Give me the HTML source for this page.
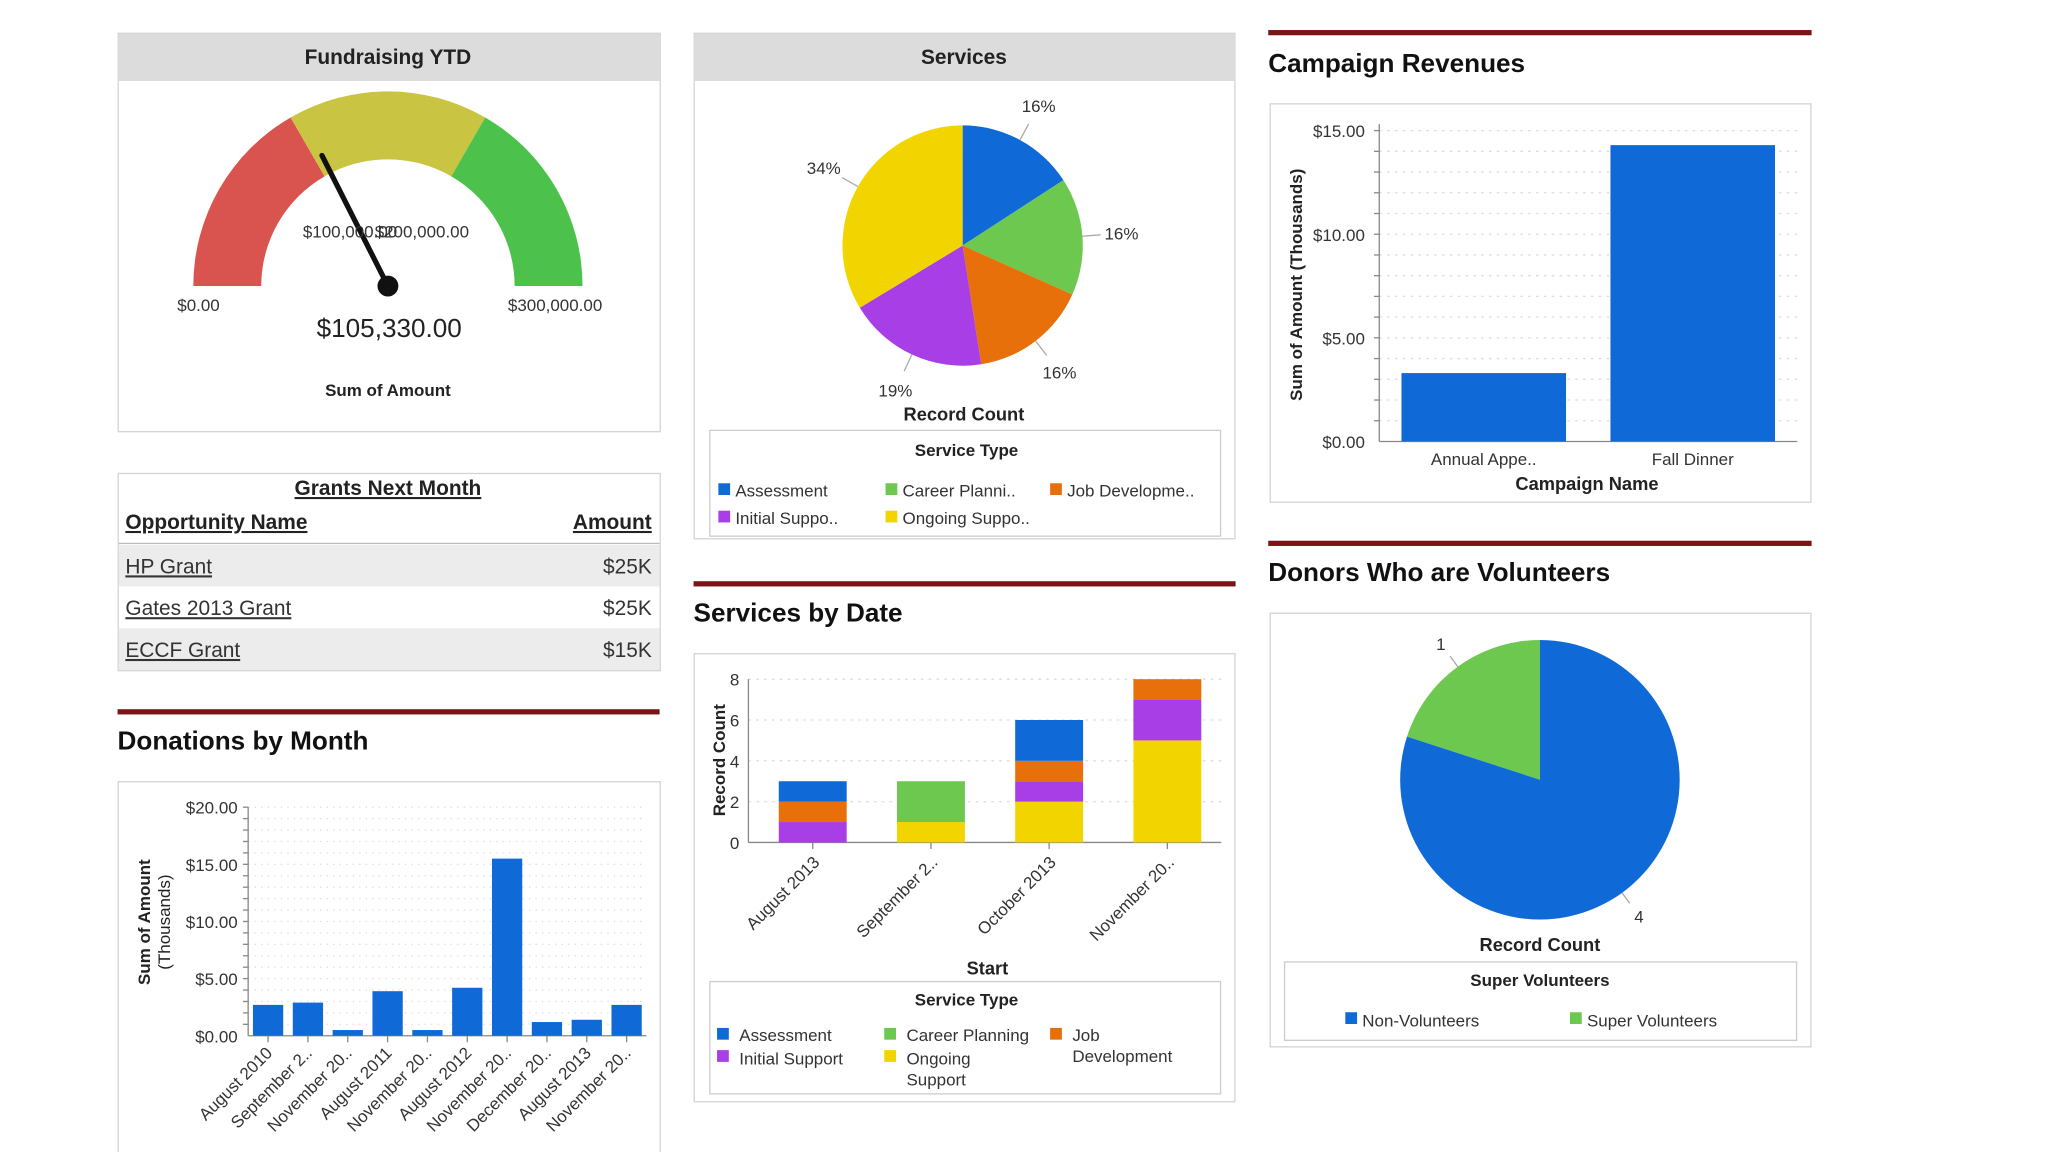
<!DOCTYPE html>
<html><head><meta charset="utf-8"><style>
html,body{margin:0;padding:0;background:#fff;}
svg{display:block;font-family:"Liberation Sans",Arial,sans-serif;}
</style></head><body>
<svg id="root" width="2048" height="1152" viewBox="0 0 1568 882" xmlns="http://www.w3.org/2000/svg">
<rect x="0" y="0" width="1568" height="882" fill="#fff"/>
<!-- Fundraising YTD panel -->
<g>
<rect x="90.5" y="25.5" width="415" height="305" fill="#fff" stroke="#d4d4d4"/>
<rect x="91" y="26" width="414" height="36" fill="#dcdcdc"/>
<text x="297" y="49" font-size="16" font-weight="bold" text-anchor="middle" fill="#222">Fundraising YTD</text>
<g id="gauge"></g>
<text x="152" y="238" font-size="13" text-anchor="middle" fill="#333">$0.00</text>
<text x="425" y="238" font-size="13" text-anchor="middle" fill="#333">$300,000.00</text>
<text x="268" y="182" font-size="13" text-anchor="middle" fill="#333">$100,000.00</text>
<text x="323" y="182" font-size="13" text-anchor="middle" fill="#333">$200,000.00</text>
<text x="298" y="258" font-size="20" text-anchor="middle" fill="#222">$105,330.00</text>
<text x="297" y="303" font-size="13" font-weight="bold" text-anchor="middle" fill="#222">Sum of Amount</text>
</g>
<!-- Grants table -->
<g>
<rect x="90.5" y="362.5" width="415" height="151" fill="#fff" stroke="#d4d4d4"/>
<text x="297" y="379" font-size="16" font-weight="bold" text-anchor="middle" fill="#222" text-decoration="underline">Grants Next Month</text>
<text x="96" y="405" font-size="16" font-weight="bold" fill="#222" text-decoration="underline">Opportunity Name</text>
<text x="499" y="405" font-size="16" font-weight="bold" fill="#222" text-anchor="end" text-decoration="underline">Amount</text>
<line x1="91" y1="416" x2="505" y2="416" stroke="#bbb"/>
<rect x="91" y="417" width="414" height="32" fill="#ececec"/>
<rect x="91" y="481" width="414" height="32" fill="#ececec"/>
<text x="96" y="439" font-size="16" fill="#333" text-decoration="underline">HP Grant</text>
<text x="499" y="439" font-size="16" fill="#333" text-anchor="end">$25K</text>
<text x="96" y="471" font-size="16" fill="#333" text-decoration="underline">Gates 2013 Grant</text>
<text x="499" y="471" font-size="16" fill="#333" text-anchor="end">$25K</text>
<text x="96" y="503" font-size="16" fill="#333" text-decoration="underline">ECCF Grant</text>
<text x="499" y="503" font-size="16" fill="#333" text-anchor="end">$15K</text>
</g>
<!-- Donations by month -->
<g>
<rect x="90" y="543" width="415" height="4" fill="#7b1414"/>
<text x="90" y="574" font-size="20" font-weight="bold" fill="#111">Donations by Month</text>
<rect x="90.5" y="598.5" width="415" height="300" fill="#fff" stroke="#d4d4d4"/>
<g id="donChart"></g>
<text transform="translate(115,706) rotate(-90)" font-size="13" font-weight="bold" text-anchor="middle" fill="#222">Sum of Amount</text>
<text transform="translate(130,706) rotate(-90)" font-size="13" text-anchor="middle" fill="#222">(Thousands)</text>
</g>
<!-- Services panel -->
<g>
<rect x="531.5" y="25.5" width="414" height="387" fill="#fff" stroke="#d4d4d4"/>
<rect x="532" y="26" width="413" height="36" fill="#dcdcdc"/>
<text x="738" y="49" font-size="16" font-weight="bold" text-anchor="middle" fill="#222">Services</text>
<g id="svcPie"></g>
<text x="738" y="322" font-size="14" font-weight="bold" text-anchor="middle" fill="#222">Record Count</text>
<rect x="543.5" y="329.5" width="391" height="81" fill="#fff" stroke="#ccc"/>
<text x="740" y="349" font-size="13" font-weight="bold" text-anchor="middle" fill="#222">Service Type</text>
<g id="svcLegend"></g>
</g>
<!-- Services by date -->
<g>
<rect x="531" y="445" width="415" height="4" fill="#7b1414"/>
<text x="531" y="476" font-size="20" font-weight="bold" fill="#111">Services by Date</text>
<rect x="531.5" y="500.5" width="414" height="343" fill="#fff" stroke="#d4d4d4"/>
<g id="stackChart"></g>
<text transform="translate(555,582) rotate(-90)" font-size="13" font-weight="bold" text-anchor="middle" fill="#222">Record Count</text>
<text x="756" y="746" font-size="14" font-weight="bold" text-anchor="middle" fill="#222">Start</text>
<rect x="543.5" y="751.5" width="391" height="86" fill="#fff" stroke="#ccc"/>
<text x="740" y="770" font-size="13" font-weight="bold" text-anchor="middle" fill="#222">Service Type</text>
<g font-size="13" fill="#333">
<rect x="549" y="787" width="9" height="9" fill="#0f6ad8"/><text x="566" y="797">Assessment</text>
<rect x="549" y="804" width="9" height="9" fill="#a83ee6"/><text x="566" y="815">Initial Support</text>
<rect x="677" y="787" width="9" height="9" fill="#6cc84e"/><text x="694" y="797">Career Planning</text>
<rect x="677" y="804" width="9" height="9" fill="#f2d500"/><text x="694" y="815">Ongoing</text><text x="694" y="831">Support</text>
<rect x="804" y="787" width="9" height="9" fill="#e8700a"/><text x="821" y="797">Job</text><text x="821" y="813">Development</text>
</g>
</g>
<!-- Campaign revenues -->
<g>
<rect x="971" y="23" width="416" height="4" fill="#7b1414"/>
<text x="971" y="55" font-size="20" font-weight="bold" fill="#111">Campaign Revenues</text>
<rect x="972.5" y="79.5" width="414" height="305" fill="#fff" stroke="#d4d4d4"/>
<g id="campChart"></g>
<text transform="translate(997,218) rotate(-90)" font-size="13" font-weight="bold" text-anchor="middle" fill="#222">Sum of Amount (Thousands)</text>
<text x="1215" y="375" font-size="14" font-weight="bold" text-anchor="middle" fill="#222">Campaign Name</text>
</g>
<!-- Donors who are volunteers -->
<g>
<rect x="971" y="414" width="416" height="4" fill="#7b1414"/>
<text x="971" y="445" font-size="20" font-weight="bold" fill="#111">Donors Who are Volunteers</text>
<rect x="972.5" y="469.5" width="414" height="332" fill="#fff" stroke="#d4d4d4"/>
<g id="volPie"></g>
<text x="1179" y="728" font-size="14" font-weight="bold" text-anchor="middle" fill="#222">Record Count</text>
<rect x="983.5" y="736.5" width="392" height="60" fill="#fff" stroke="#ccc"/>
<text x="1179" y="755" font-size="13" font-weight="bold" text-anchor="middle" fill="#222">Super Volunteers</text>
<rect x="1030" y="775" width="9" height="9" fill="#0f6ad8"/><text x="1043" y="786" font-size="13" fill="#333">Non-Volunteers</text>
<rect x="1202" y="775" width="9" height="9" fill="#6cc84e"/><text x="1215" y="786" font-size="13" fill="#333">Super Volunteers</text>
</g>
</svg>
<script>
// ---------- data ----------
const gaugeMax = 300000;
const gaugeBands = [100000, 200000, 300000];
const gaugeValue = 105330;

const donMonths = ["August 2010","September 2..","November 20..","August 2011","November 20..","August 2012","November 20..","December 20..","August 2013","November 20.."];
const donValues = [2.7, 2.9, 0.5, 3.9, 0.5, 4.2, 15.5, 1.2, 1.4, 2.7];
const donTicks = ["$0.00","$5.00","$10.00","$15.00","$20.00"];
const donTickVals = [0, 5, 10, 15, 20];

const svcNames = ["Assessment","Career Planni..","Job Developme..","Initial Suppo..","Ongoing Suppo.."];
const svcPct = [16, 16, 16, 19, 34];
const svcPctLabels = ["16%","16%","16%","19%","34%"];

const stackCats = ["August 2013","September 2..","October 2013","November 20.."];
const stackOngoing = [0, 1, 2, 5];
const stackInitial = [1, 0, 1, 2];
const stackCareer = [0, 2, 0, 0];
const stackJob = [1, 0, 1, 1];
const stackAssessment = [1, 0, 2, 0];
const stackTicks = [0, 2, 4, 6, 8];

const campNames = ["Annual Appe..","Fall Dinner"];
const campValues = [3.3, 14.3];
const campTicks = ["$0.00","$5.00","$10.00","$15.00"];
const campTickVals = [0, 5, 10, 15];

const volNames = ["Super Volunteers","Non-Volunteers"];
const volCounts = [1, 4];

// ---------- helpers ----------
const NS = "http://www.w3.org/2000/svg";
function mk(tag, parent, attrs){ const e=document.createElementNS(NS,tag); for(const k in attrs) e.setAttribute(k,attrs[k]); parent.appendChild(e); return e; }
const C = {blue:"#0f6ad8", green:"#6cc84e", orange:"#e8700a", purple:"#a83ee6", yellow:"#f2d500"};

// ---------- gauge ----------
(function(){
  const g=document.getElementById('gauge');
  const cx=297, cy=219, ro=149, ri=97;
  const ang=v=>Math.PI - v/gaugeMax*Math.PI;
  const pt=(r,v)=>[cx+r*Math.cos(ang(v)), cy-r*Math.sin(ang(v))];
  const cols=["#d9534f","#c9c441","#4cc24c"];
  let prev=0;
  gaugeBands.forEach((b,i)=>{
    const a=pt(ro,prev), bb=pt(ro,b), c=pt(ri,b), d=pt(ri,prev);
    const p=mk('path',g,{d:`M${a} A${ro},${ro} 0 0 1 ${bb} L${c} A${ri},${ri} 0 0 0 ${d} Z`,fill:cols[i]});
    
    
    prev=b;
  });
  const tip=pt(112,gaugeValue);
  const n=mk('line',g,{x1:cx,y1:cy,x2:tip[0],y2:tip[1],stroke:"#111","stroke-width":4,"stroke-linecap":"round"});
  
  
  const h=mk('circle',g,{cx:cx,cy:cy,r:8,fill:"#111"});
  
  
})();

// ---------- donations bar chart ----------
(function(){
  const g=document.getElementById('donChart');
  const x0=190, x1=495, y0=793, y1=618;
  const ys=v=>y0-(v/20)*(y0-y1);
  for(let v=1; v<=20; v++){ mk('line',g,{x1:x0,y1:ys(v),x2:x1,y2:ys(v),stroke:"#ddd","stroke-dasharray":"1,4"}); mk('line',g,{x1:x0-4,y1:ys(v),x2:x0,y2:ys(v),stroke:"#888"}); }
  donTickVals.forEach((v,i)=>{ const t=mk('text',g,{x:x0-8,y:ys(v)+5,"font-size":13,"text-anchor":"end",fill:"#333"}); t.textContent=donTicks[i];   });
  mk('line',g,{x1:x0,y1:y1,x2:x0,y2:y0,stroke:"#888"});
  mk('line',g,{x1:x0,y1:y0,x2:x1,y2:y0,stroke:"#888"});
  const bw=(x1-x0)/donValues.length;
  donValues.forEach((v,i)=>{
    const cx=x0+bw*(i+0.5);
    const r=mk('rect',g,{x:cx-bw*0.38,y:ys(v),width:bw*0.76,height:y0-ys(v),fill:C.blue});
    
    
    mk('line',g,{x1:cx,y1:y0,x2:cx,y2:y0+5,stroke:"#888"});
    const t=mk('text',g,{transform:`translate(${cx+4},${y0+14}) rotate(-45)`,"font-size":13,"text-anchor":"end",fill:"#333"});
    t.textContent=donMonths[i];
    
    
  });
})();

// ---------- services pie ----------
(function(){
  const g=document.getElementById('svcPie');
  const cx=737, cy=188, r=92;
  const cols=[C.blue,C.green,C.orange,C.purple,C.yellow];
  const tot=svcPct.reduce((a,b)=>a+b,0);
  let a0=-Math.PI/2;
  svcPct.forEach((p,i)=>{
    const a1=a0+p/tot*Math.PI*2;
    const large=(a1-a0)>Math.PI?1:0;
    const s=mk('path',g,{d:`M${cx},${cy} L${cx+r*Math.cos(a0)},${cy+r*Math.sin(a0)} A${r},${r} 0 ${large} 1 ${cx+r*Math.cos(a1)},${cy+r*Math.sin(a1)} Z`,fill:cols[i]});
    
    
    const am=(a0+a1)/2;
    mk('line',g,{x1:cx+r*Math.cos(am),y1:cy+r*Math.sin(am),x2:cx+(r+14)*Math.cos(am),y2:cy+(r+14)*Math.sin(am),stroke:"#aaa"});
    const t=mk('text',g,{x:cx+(r+30)*Math.cos(am),y:cy+(r+30)*Math.sin(am)+5,"font-size":13,"text-anchor":"middle",fill:"#333"});
    t.textContent=svcPctLabels[i];
    
    
    a0=a1;
  });
  const lg=document.getElementById('svcLegend');
  const pos=[[550,370],[678,370],[804,370],[550,391],[678,391]];
  svcNames.forEach((n,i)=>{
    mk('rect',lg,{x:pos[i][0],y:pos[i][1],width:9,height:9,fill:cols[i]});
    const t=mk('text',lg,{x:pos[i][0]+13,y:pos[i][1]+10,"font-size":13,fill:"#333"});
    t.textContent=n;
    
    
  });
})();

// ---------- stacked chart ----------
(function(){
  const g=document.getElementById('stackChart');
  const x0=573, x1=935, y0=645, y1=520;
  const ys=v=>y0-(v/8)*(y0-y1);
  stackTicks.forEach(v=>{
    if(v>0) mk('line',g,{x1:x0,y1:ys(v),x2:x1,y2:ys(v),stroke:"#ddd","stroke-dasharray":"2,4"});
    const t=mk('text',g,{x:x0-7,y:ys(v)+5,"font-size":13,"text-anchor":"end",fill:"#333"});
    t.textContent=v;
    
    
  });
  mk('line',g,{x1:x0,y1:y1,x2:x0,y2:y0,stroke:"#888"});
  mk('line',g,{x1:x0,y1:y0,x2:x1,y2:y0,stroke:"#888"});
  const series=[[stackOngoing,C.yellow],[stackInitial,C.purple],[stackCareer,C.green],[stackJob,C.orange],[stackAssessment,C.blue]];
  const bw=(x1-x0)/stackCats.length;
  stackCats.forEach((c,i)=>{
    const cx=x0+bw*(i+0.5)+4;
    let acc=0;
    series.forEach(([arr,col])=>{
      const v=arr[i]; if(!v) return;
      const r=mk('rect',g,{x:cx-26,y:ys(acc+v),width:52,height:ys(acc)-ys(acc+v),fill:col});
      
      
      acc+=v;
    });
    mk('line',g,{x1:cx,y1:y0,x2:cx,y2:y0+5,stroke:"#888"});
    const t=mk('text',g,{transform:`translate(${cx+6},${y0+16}) rotate(-45)`,"font-size":13,"text-anchor":"end",fill:"#333"});
    t.textContent=c;
    
    
  });
})();

// ---------- campaign bar chart ----------
(function(){
  const g=document.getElementById('campChart');
  const x0=1056, x1=1376, y0=338, y1=100;
  const ys=v=>y0-(v/15)*(y0-y1);
  for(let v=1; v<=15; v++){ mk('line',g,{x1:x0,y1:ys(v),x2:x1,y2:ys(v),stroke:"#ddd","stroke-dasharray":"2,4"}); mk('line',g,{x1:x0-4,y1:ys(v),x2:x0,y2:ys(v),stroke:"#888"}); }
  campTickVals.forEach((v,i)=>{ const t=mk('text',g,{x:x0-11,y:ys(v)+5,"font-size":13,"text-anchor":"end",fill:"#333"}); t.textContent=campTicks[i];   });
  mk('line',g,{x1:x0,y1:y1-5,x2:x0,y2:y0,stroke:"#888"});
  mk('line',g,{x1:x0,y1:y0,x2:x1,y2:y0,stroke:"#888"});
  const bw=(x1-x0)/campValues.length;
  campValues.forEach((v,i)=>{
    const cx=x0+bw*(i+0.5);
    const r=mk('rect',g,{x:cx-63,y:ys(v),width:126,height:y0-ys(v),fill:C.blue});
    
    
    const t=mk('text',g,{x:cx,y:y0+18,"font-size":13,"text-anchor":"middle",fill:"#333"});
    t.textContent=campNames[i];
    
    
  });
})();

// ---------- volunteers pie ----------
(function(){
  const g=document.getElementById('volPie');
  const cx=1179, cy=597, r=107;
  const cols=[C.green,C.blue];
  const tot=volCounts.reduce((a,b)=>a+b,0);
  let a0=-Math.PI/2 - volCounts[0]/tot*Math.PI*2;
  volCounts.forEach((v,i)=>{
    const a1=a0+v/tot*Math.PI*2;
    const large=(a1-a0)>Math.PI?1:0;
    const s=mk('path',g,{d:`M${cx},${cy} L${cx+r*Math.cos(a0)},${cy+r*Math.sin(a0)} A${r},${r} 0 ${large} 1 ${cx+r*Math.cos(a1)},${cy+r*Math.sin(a1)} Z`,fill:cols[i]});
    
    
    const am=(a0+a1)/2;
    mk('line',g,{x1:cx+r*Math.cos(am),y1:cy+r*Math.sin(am),x2:cx+(r+10)*Math.cos(am),y2:cy+(r+10)*Math.sin(am),stroke:"#aaa"});
    const t=mk('text',g,{x:cx+(r+22)*Math.cos(am),y:cy+(r+22)*Math.sin(am)+5,"font-size":13,"text-anchor":"middle",fill:"#333"});
    t.textContent=v;
    
    
    a0=a1;
  });
})();
</script>
</body></html>
